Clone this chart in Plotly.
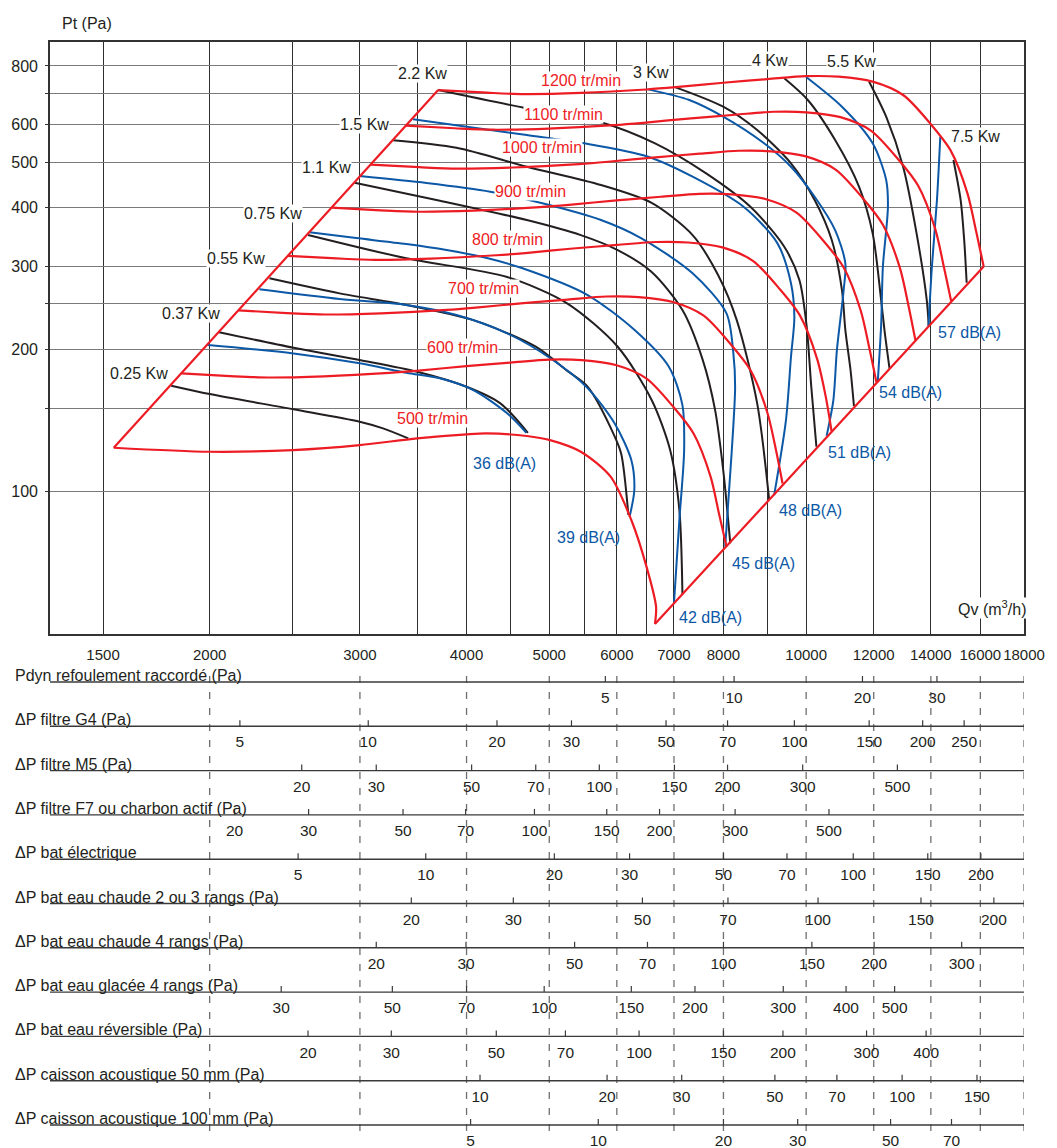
import math
import plotly.graph_objects as go

FONT = "Liberation Sans, Arial, sans-serif"
RED = "#ed1c24"
BLUE = "#0c58a6"
BLACK = "#231f20"

# ---------------- axes ----------------
X_GRID = [1500, 2000, 2500, 3000, 3500, 4000, 4500, 5000, 5500, 6000, 6500, 7000,
          8000, 9000, 10000, 12000, 14000, 16000, 18000]
X_LABELS = ["1500", "2000", "", "3000", "", "4000", "", "5000", "", "6000", "", "7000",
            "8000", "", "10000", "12000", "14000", "16000", "18000"]
Y_GRID = [100, 150, 200, 250, 300, 400, 500, 600, 700, 800]
Y_LABELS = ["100", "", "200", "", "300", "400", "500", "600", "", "800"]

# ---------------- operating field boundary (Qv m3/h, Pt Pa) ----------------
BOUND_LEFT_Q = [1544, 3705]
BOUND_LEFT_PT = [123.6, 711]
BOUND_RIGHT_Q = [6650, 16145]
BOUND_RIGHT_PT = [52.2, 300]

# ---------------- fan speed curves (red) ----------------
N500_Q = [1544, 2000, 2505, 2998, 3500, 4000, 4225, 4706, 5010, 5444, 5900, 6239, 6500, 6670, 6650]
N500_PT = [123.6, 121.2, 122.2, 125.2, 129.4, 132.0, 132.6, 130.9, 128.3, 121.2, 107.3, 86.8, 69.1, 56.8, 52.2]
N600_Q = [1853, 2113, 2339, 2722, 3250, 3516, 3998, 4504, 5000, 5456, 5983, 6496, 6987, 7380, 7727, 7905, 8066]
N600_PT = [177.8, 175.5, 174.3, 175.3, 178.3, 180.3, 184.3, 187.5, 190.3, 189.8, 185.3, 173.5, 151.0, 132.5, 107.3, 89.5, 76.2]
N700_Q = [2161, 2464, 2728, 3176, 3792, 4101, 4664, 5255, 5833, 6365, 6980, 7578, 8151, 8610, 9014, 9222, 9383]
N700_PT = [242.0, 238.9, 237.2, 238.6, 242.6, 245.4, 250.8, 255.2, 259.0, 258.3, 252.2, 236.2, 205.5, 180.4, 146.0, 121.8, 103.8]
N800_Q = [2470, 2817, 3118, 3629, 4333, 4687, 5330, 6005, 6667, 7275, 7977, 8661, 9316, 9840, 10302, 10540, 10710]
N800_PT = [316.0, 312.0, 309.8, 311.6, 316.9, 320.4, 327.6, 333.3, 338.2, 337.3, 329.3, 308.4, 268.4, 235.6, 190.7, 159.1, 134.0]
N900_Q = [2779, 3169, 3508, 4083, 4875, 5273, 5996, 6756, 7500, 8184, 8975, 9743, 10481, 11070, 11590, 11858, 12090]
N900_PT = [400.0, 394.9, 392.1, 394.3, 401.1, 405.6, 414.6, 421.9, 428.1, 426.9, 416.8, 390.4, 339.8, 298.1, 241.3, 201.4, 170.0]
N1000_Q = [3088, 3521, 3898, 4537, 5417, 5859, 6663, 7507, 8333, 9093, 9972, 10826, 11645, 12300, 12878, 13175, 13430]
N1000_PT = [493.7, 487.5, 484.0, 486.8, 495.1, 500.7, 511.8, 520.8, 528.4, 527.0, 514.6, 481.9, 419.4, 368.0, 297.9, 248.6, 209.0]
N1100_Q = [3396, 3873, 4287, 4990, 5958, 6445, 7329, 8257, 9167, 10003, 10969, 11908, 12810, 13530, 14165, 14493, 14790]
N1100_PT = [597.5, 589.9, 585.7, 589.0, 599.1, 605.9, 619.3, 630.2, 639.5, 637.8, 622.7, 583.2, 507.5, 445.4, 360.5, 300.8, 253.0]
N1200_Q = [3705, 4225, 4677, 5444, 6500, 7031, 7995, 9008, 10000, 10912, 11966, 12991, 13974, 14760, 15453, 15810, 16145]
N1200_PT = [711, 702, 697, 701, 713, 721, 737, 750, 761, 759, 741, 694, 604, 530, 429, 358, 300]

SPEED_NAMES = ["500 tr/min", "600 tr/min", "700 tr/min", "800 tr/min", "900 tr/min",
               "1000 tr/min", "1100 tr/min", "1200 tr/min"]
SPEED_LABEL_Q = [3648, 3958, 4190, 4463, 4752, 4906, 5194, 5444]
SPEED_LABEL_PT = [142.9, 202.3, 270.0, 343.0, 432.0, 537.8, 632.4, 746.8]

# ---------------- absorbed power curves (black) ----------------
KW025_Q = [1803, 2000, 2508, 2998, 3193, 3418]
KW025_PT = [167.4, 160.7, 149.2, 140.4, 135.9, 129.4]
KW037_Q = [2051, 2508, 2998, 3500, 4000, 4382, 4720]
KW037_PT = [217.4, 201.6, 189.8, 179.3, 166.6, 153.6, 133.0]
KW055_Q = [2350, 2840, 3400, 4074, 4821, 5250, 5545, 5961, 6071, 6190]
KW055_PT = [283.1, 263.0, 248.5, 230.8, 202.6, 180.0, 166.6, 131.0, 120.0, 89.0]
KW075_Q = [2608, 3400, 4463, 5247, 6014, 6591, 6928, 7103, 7162]
KW075_PT = [350.0, 312.2, 284.9, 250.5, 202.6, 156.1, 122.2, 91.1, 60.3]
KW11_Q = [2957, 3688, 4706, 5444, 6014, 6591, 7162, 7566, 7822, 7995, 8149]
KW11_PT = [452.0, 415.3, 376.5, 349.8, 325.1, 292.0, 242.4, 189.8, 148.6, 110.8, 77.4]
KW15_Q = [3280, 3893, 4706, 5749, 6591, 7361, 7885, 8292, 8762, 9049]
KW15_PT = [556.0, 536.0, 488.7, 446.8, 409.4, 349.8, 287.7, 230.8, 153.6, 96.0]
KW22_Q = [3705, 4706, 5723, 6652, 7635, 8604, 9427, 9819, 10010, 10139, 10281]
KW22_PT = [711.0, 650.3, 609.2, 548.0, 473.2, 401.8, 330.4, 280.8, 225.2, 166.6, 124.2]
KW3_Q = [7031, 7995, 8762, 9599, 10232, 10715, 11014, 11116, 11272, 11376]
KW3_PT = [720.6, 655.4, 584.8, 496.9, 415.3, 341.4, 267.3, 219.8, 180.8, 151.6]
KW4_Q = [9427, 10044, 10813, 11533, 11966, 12242, 12353, 12523]
KW4_PT = [753.0, 677.3, 556.9, 443.3, 352.7, 254.6, 219.8, 182.0]
KW55_Q = [11852, 12410, 12991, 13471, 13846, 13921]
KW55_PT = [740.6, 624.2, 488.7, 352.7, 254.6, 224.1]
KW75_Q = [14880, 15172, 15320, 15420]
KW75_PT = [505.0, 415.0, 340.0, 277.0]

POWER_NAMES = ["0.25 Kw", "0.37 Kw", "0.55 Kw", "0.75 Kw", "1.1 Kw", "1.5 Kw",
               "2.2 Kw", "3 Kw", "4 Kw", "5.5 Kw", "7.5 Kw"]
POWER_LABEL_Q = [1655, 1900, 2147, 2374, 2740, 3035, 3551, 6573, 9074, 11302, 15796]
POWER_LABEL_PT = [178.1, 238.8, 312.6, 389.6, 488.0, 599.5, 772.7, 776.0, 819.7, 815.7, 565.2]

# ---------------- noise curves (blue) ----------------
DB36_Q = [1990, 2508, 2998, 3400, 3721, 4074, 4463, 4700]
DB36_PT = [204.3, 196.1, 186.8, 178.4, 173.6, 163.9, 146.3, 133.0]
DB39_Q = [2287, 2840, 3400, 3893, 4463, 5010, 5545, 5961, 6239, 6290, 6210]
DB39_PT = [268.3, 255.8, 248.5, 236.6, 216.3, 191.7, 165.5, 139.5, 116.4, 100.5, 88.2]
DB42_Q = [2619, 2970, 3400, 3789, 4225, 4643, 5545, 6295, 6904, 7162, 7195, 7103, 7000]
DB42_PT = [354.5, 344.7, 334.8, 325.1, 312.6, 297.7, 260.9, 219.8, 183.7, 152.3, 122.2, 86.8, 57.7]
DB45_Q = [2998, 3589, 4264, 4895, 5749, 6412, 7361, 8066, 8217, 8256, 8178, 8038]
DB45_PT = [467.0, 451.4, 432.6, 409.2, 376.5, 344.3, 290.1, 238.5, 196.1, 166.6, 120.3, 76.2]
DB48_Q = [3462, 4706, 5494, 6531, 7361, 8446, 9255, 9599, 9687, 9599, 9470, 9173]
DB48_PT = [616.3, 570.7, 548.0, 513.2, 465.5, 401.8, 335.9, 276.3, 234.0, 192.9, 141.5, 98.0]
DB51_Q = [6531, 7295, 7995, 8926, 9599, 10232, 10813, 11116, 11065, 10865, 10762, 10568]
DB51_PT = [713.5, 677.3, 624.2, 548.0, 488.7, 422.0, 358.5, 304.6, 267.3, 199.3, 156.1, 131.0]
DB54_Q = [10000, 11014, 11966, 12410, 12469, 12300, 12242, 12132]
DB54_PT = [758.0, 655.4, 548.0, 457.9, 401.8, 299.6, 225.0, 171.0]
DB57_Q = [14361, 14232, 14039, 13910]
DB57_PT = [566.0, 415.3, 299.6, 224.1]

NOISE_NAMES = ["36 dB(A)", "39 dB(A)", "42 dB(A)", "45 dB(A)", "48 dB(A)", "51 dB(A)", "54 dB(A)", "57 dB(A)"]
NOISE_LABEL_Q = [4426, 5564, 7735, 8901, 10119, 11554, 13254, 15537]
NOISE_LABEL_PT = [114.7, 79.8, 54.0, 70.3, 91.1, 121.0, 162.3, 217.7]

# ---------------- pressure-drop scales (value -> airflow Qv) ----------------
ROW_NAMES = ["Pdyn refoulement raccordé (Pa)", "ΔP filtre G4 (Pa)", "ΔP filtre M5 (Pa)",
             "ΔP filtre F7 ou charbon actif (Pa)", "ΔP bat électrique",
             "ΔP bat eau chaude 2 ou 3 rangs (Pa)", "ΔP bat eau chaude 4 rangs (Pa)",
             "ΔP bat eau glacée 4 rangs (Pa)", "ΔP bat eau réversible (Pa)",
             "ΔP caisson acoustique 50 mm (Pa)", "ΔP caisson acoustique 100 mm (Pa)"]
PDYN_VALUES = [5, 10, 20, 30]
PDYN_Q = [5817, 8233, 11641, 14232]
G4_VALUES = [5, 10, 20, 30, 50, 70, 100, 150, 200, 250]
G4_Q = [2170, 3068, 4342, 5309, 6852, 8089, 9687, 11853, 13694, 15315]
M5_VALUES = [20, 30, 50, 70, 100, 150, 200, 300, 500]
M5_Q = [2564, 3135, 4055, 4821, 5723, 7009, 8089, 9907, 12791]
F7_VALUES = [20, 30, 50, 70, 100, 150, 200, 300, 500]
F7_Q = [2139, 2612, 3370, 3990, 4804, 5839, 6733, 8256, 10635]
ELEC_VALUES = [5, 10, 20, 30, 50, 70, 100, 150, 200]
ELEC_Q = [2539, 3583, 5069, 6210, 8000, 9496, 11355, 13884, 16022]
HOT23_VALUES = [20, 30, 50, 70, 100, 150, 200]
HOT23_Q = [3446, 4538, 6429, 8098, 10326, 13632, 16594]
HOT4_VALUES = [20, 30, 50, 70, 100, 150, 200, 300]
HOT4_Q = [3135, 3994, 5354, 6517, 8000, 10156, 12013, 15214]
COLD4_VALUES = [30, 50, 70, 100, 150, 200, 300, 400, 500]
COLD4_Q = [2426, 3274, 4000, 4932, 6239, 7408, 9401, 11137, 12696]
REV_VALUES = [20, 30, 50, 70, 100, 150, 200, 300, 400]
REV_Q = [2608, 3265, 4334, 5223, 6371, 8000, 9393, 11770, 13822]
AC50_VALUES = [10, 20, 30, 50, 70, 100, 150]
AC50_Q = [4148, 5844, 7148, 9191, 10865, 12956, 15855]
AC100_VALUES = [5, 10, 20, 30, 50, 70]
AC100_Q = [4044, 5707, 8000, 9774, 12558, 14802]
DASH_Q = [2000, 3000, 4000, 5000, 6000, 7000, 8000, 10000, 12000, 14000, 16000, 18000]

Q_MIN, Q_MAX = 1300, 18000
PT_MIN, PT_MAX = 49.7, 899.5

LBL = 16      # label font size
NUM = 15.5    # scale numbers font size

# ======================================================================
fig = go.Figure()


def curve(q, p, color, width=2.0):
    fig.add_trace(go.Scatter(x=q, y=p, mode="lines", xaxis="x", yaxis="y",
                             line=dict(color=color, width=width, shape="spline", smoothing=0.8),
                             hoverinfo="skip", showlegend=False))


for q, p in [(KW025_Q, KW025_PT), (KW037_Q, KW037_PT), (KW055_Q, KW055_PT), (KW075_Q, KW075_PT),
             (KW11_Q, KW11_PT), (KW15_Q, KW15_PT), (KW22_Q, KW22_PT), (KW3_Q, KW3_PT),
             (KW4_Q, KW4_PT), (KW55_Q, KW55_PT), (KW75_Q, KW75_PT)]:
    curve(q, p, BLACK)
for q, p in [(DB36_Q, DB36_PT), (DB39_Q, DB39_PT), (DB42_Q, DB42_PT), (DB45_Q, DB45_PT),
             (DB48_Q, DB48_PT), (DB51_Q, DB51_PT), (DB54_Q, DB54_PT), (DB57_Q, DB57_PT)]:
    curve(q, p, BLUE)
for q, p in [(N500_Q, N500_PT), (N600_Q, N600_PT), (N700_Q, N700_PT), (N800_Q, N800_PT),
             (N900_Q, N900_PT), (N1000_Q, N1000_PT), (N1100_Q, N1100_PT), (N1200_Q, N1200_PT)]:
    curve(q, p, RED, 2.2)
fig.add_trace(go.Scatter(x=BOUND_LEFT_Q, y=BOUND_LEFT_PT, mode="lines", line=dict(color=RED, width=2.2),
                         hoverinfo="skip", showlegend=False))
fig.add_trace(go.Scatter(x=BOUND_RIGHT_Q, y=BOUND_RIGHT_PT, mode="lines", line=dict(color=RED, width=2.2),
                         hoverinfo="skip", showlegend=False))

annotations = []


def label(text, q, p, color, bg):
    annotations.append(dict(text=text, x=math.log10(q), y=math.log10(p), xref="x", yref="y",
                            showarrow=False, font=dict(family=FONT, size=LBL, color=color),
                            bgcolor="white" if bg else "rgba(0,0,0,0)", borderpad=0,
                            xanchor="center", yanchor="middle"))


for t, q, p in zip(SPEED_NAMES, SPEED_LABEL_Q, SPEED_LABEL_PT):
    label(t, q, p, RED, True)
for t, q, p in zip(POWER_NAMES, POWER_LABEL_Q, POWER_LABEL_PT):
    label(t, q, p, BLACK, True)
for t, q, p in zip(NOISE_NAMES, NOISE_LABEL_Q, NOISE_LABEL_PT):
    label(t, q, p, BLUE, False)
label("Qv (m<sup>3</sup>/h)", 16502, 56.4, BLACK, True)

annotations.append(dict(text="Pt (Pa)", xref="paper", yref="paper", x=0.0381, y=1.0172,
                        showarrow=False, xanchor="center", yanchor="middle",
                        font=dict(family=FONT, size=LBL, color=BLACK)))

# ---------------- lower table of pressure-drop scales ----------------
ROWS = [(PDYN_VALUES, PDYN_Q), (G4_VALUES, G4_Q), (M5_VALUES, M5_Q), (F7_VALUES, F7_Q),
        (ELEC_VALUES, ELEC_Q), (HOT23_VALUES, HOT23_Q), (HOT4_VALUES, HOT4_Q),
        (COLD4_VALUES, COLD4_Q), (REV_VALUES, REV_Q), (AC50_VALUES, AC50_Q), (AC100_VALUES, AC100_Q)]
n_rows = len(ROWS)
TICK_H = 0.135
NUM_OFF = 0.39

# dashed verticals
dx, dy = [], []
for q in DASH_Q:
    dx += [q, q, None]
    dy += [TICK_H, -(n_rows - 1) - 0.33, None]
fig.add_trace(go.Scatter(x=dx, y=dy, mode="lines", xaxis="x2", yaxis="y2",
                         line=dict(color="#6f6f6f", width=1.3, dash="7px,9px"),
                         hoverinfo="skip", showlegend=False))

# row baselines
lx, ly = [], []
for i in range(n_rows):
    lx += [Q_MIN, Q_MAX, None]
    ly += [-i, -i, None]
fig.add_trace(go.Scatter(x=lx, y=ly, mode="lines", xaxis="x2", yaxis="y2",
                         line=dict(color="#3a3a3a", width=1.4), hoverinfo="skip", showlegend=False))

# ticks + numbers
tx, ty = [], []
for i, (vals, qs) in enumerate(ROWS):
    for q in qs:
        tx += [q, q, None]
        ty += [-i, -i + TICK_H, None]
    fig.add_trace(go.Scatter(x=qs, y=[-i - NUM_OFF] * len(qs), mode="text", xaxis="x2", yaxis="y2",
                             text=[str(v) for v in vals], textposition="middle center",
                             textfont=dict(family=FONT, size=NUM, color=BLACK),
                             cliponaxis=False, hoverinfo="skip", showlegend=False))
    annotations.append(dict(text=ROW_NAMES[i], xref="paper", x=-0.0385, yref="y2", y=-i,
                            xanchor="left", yanchor="bottom", yshift=-4, showarrow=False,
                            font=dict(family=FONT, size=LBL, color=BLACK)))
fig.add_trace(go.Scatter(x=tx, y=ty, mode="lines", xaxis="x2", yaxis="y2",
                         line=dict(color="#3a3a3a", width=1.2), hoverinfo="skip", showlegend=False))

# the page adds an 8 px body margin, so the figure is 8 px smaller and margins compensate
H_PLOT = 1140 - 34 - 3
fig.update_layout(
    width=1049, height=1140,
    margin=dict(l=37, r=33, t=34, b=3),
    paper_bgcolor="white", plot_bgcolor="white",
    font=dict(family=FONT, size=LBL, color=BLACK),
    showlegend=False,
    annotations=annotations,
    xaxis=dict(type="log", range=[math.log10(Q_MIN), math.log10(Q_MAX)], domain=[0, 1], anchor="y",
               tickmode="array", tickvals=X_GRID, ticktext=X_LABELS, tickangle=0,
               showgrid=True, gridcolor="#2e2e2e", gridwidth=1, zeroline=False,
               showline=True, linecolor="#333333", linewidth=1.6, mirror=True,
               ticks="", tickfont=dict(size=15, color=BLACK), ticklabelstandoff=6),
    yaxis=dict(type="log", range=[math.log10(PT_MIN), math.log10(PT_MAX)],
               domain=[511 / H_PLOT, 1], anchor="x",
               tickmode="array", tickvals=Y_GRID, ticktext=Y_LABELS,
               showgrid=True, gridcolor="#7a7a7a", gridwidth=1.3, zeroline=False,
               showline=True, linecolor="#333333", linewidth=1.6, mirror=True,
               ticks="outside", ticklen=3, tickcolor="#333333", tickwidth=1,
               tickfont=dict(size=LBL, color=BLACK), ticklabelstandoff=4),
    xaxis2=dict(type="log", range=[math.log10(Q_MIN), math.log10(Q_MAX)], domain=[0, 1],
                anchor="y2", visible=False),
    yaxis2=dict(range=[-10.4515, 0.4966], domain=[0, 485 / H_PLOT], anchor="x2", visible=False),
)

fig.write_html("out.html")
